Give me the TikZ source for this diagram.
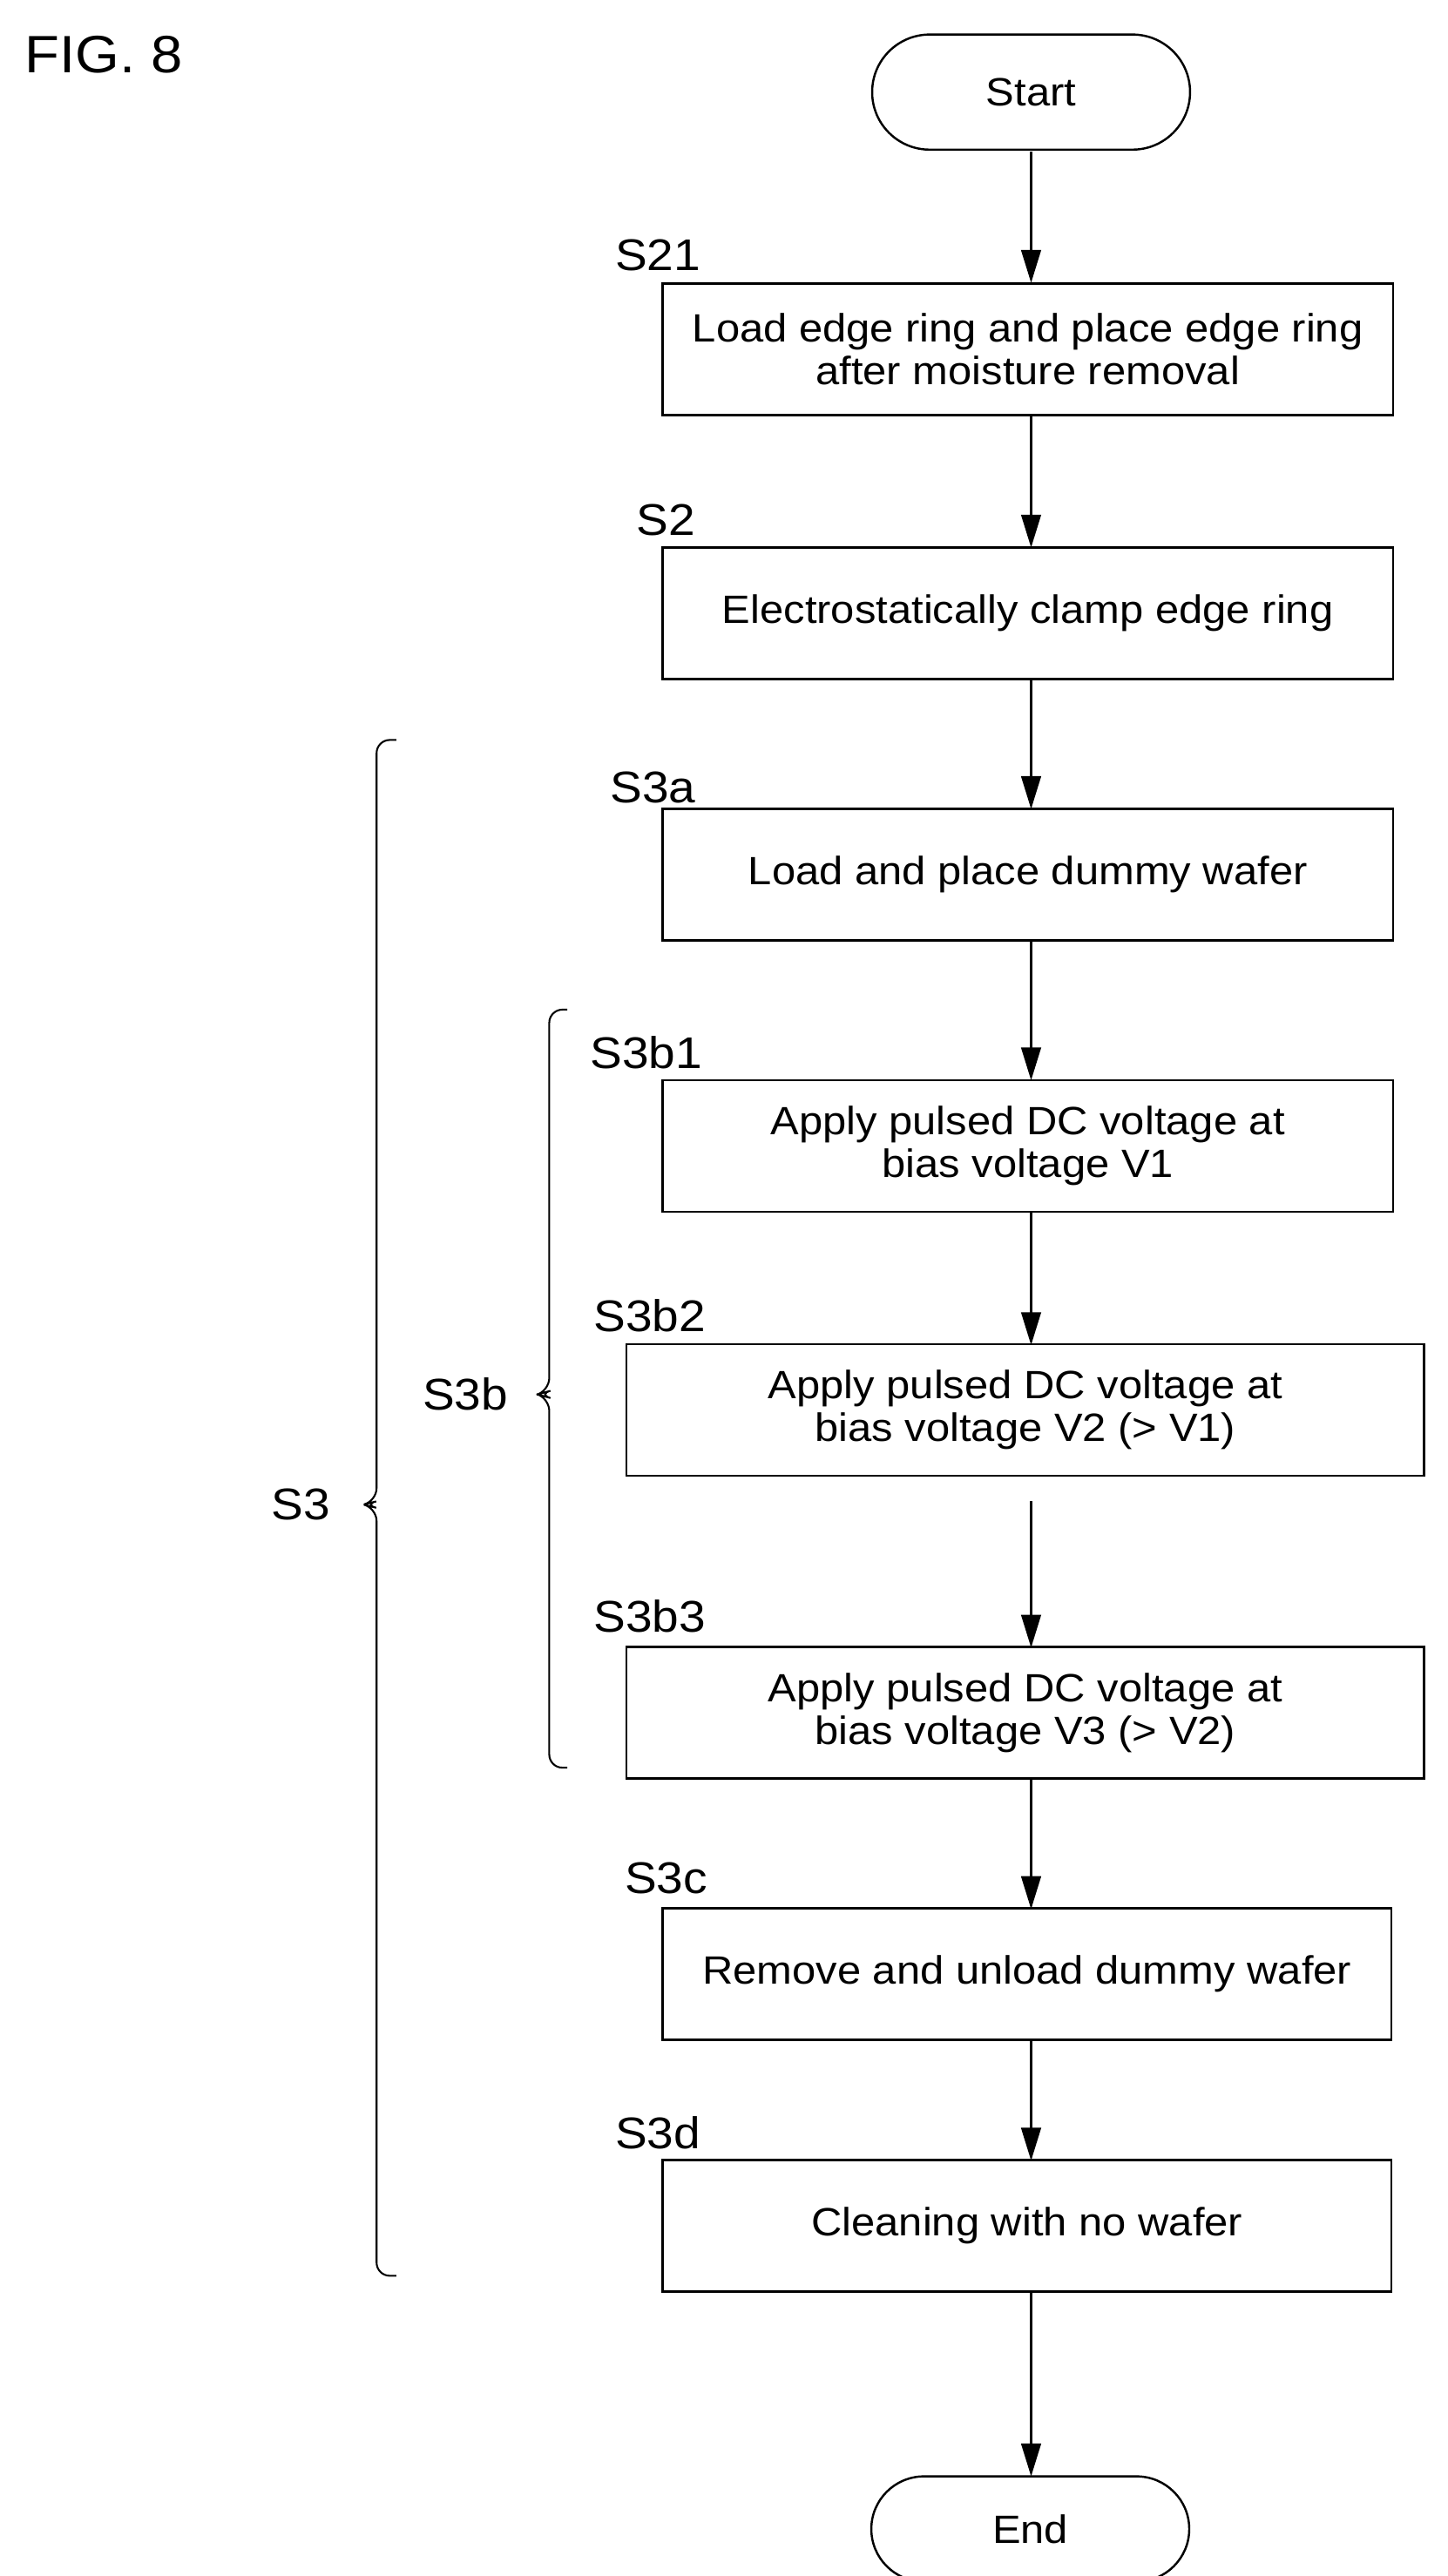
\documentclass[tikz,border=0pt]{standalone}
\usepackage{fontspec}
\setmainfont{Liberation Sans}[FakeStretch=1.08]
\usetikzlibrary{arrows.meta,shapes.misc}
\begin{document}
\begin{tikzpicture}[x=1pt,y=-1pt,
  box/.style={draw,line width=1.3pt,minimum height=80pt,align=center,font=\fontsize{24}{26}\selectfont,inner sep=0pt},
  term/.style={draw,line width=1.3pt,rounded rectangle,minimum width=200pt,minimum height=70pt,font=\fontsize{24}{26}\selectfont},
  lbl/.style={font=\fontsize{27}{30}\selectfont,anchor=center},
  arr/.style={line width=1.3pt,-{Triangle[length=20pt,width=12pt]}},
  br/.style={line width=1.1pt,rounded corners=8pt}]
\useasboundingbox (0,0) rectangle (880,1566.6);
\node[font=\fontsize{32}{36}\selectfont] (fig) at (63,33) {FIG. 8};
\node[term] (start) at (627,56) {Start};
\node[box,minimum width=444pt] (s21) at (625,212.5) {Load edge ring and place edge ring\\after moisture removal};
\node[box,minimum width=444pt] (s2) at (625,373) {Electrostatically clamp edge ring};
\node[box,minimum width=444pt] (s3a) at (625,532) {Load and place dummy wafer};
\node[box,minimum width=444pt] (s3b1) at (625,697) {Apply pulsed DC voltage at\\bias voltage V1};
\node[box,minimum width=485pt] (s3b2) at (623.5,857.5) {Apply pulsed DC voltage at\\bias voltage V2 (> V1)};
\node[box,minimum width=485pt] (s3b3) at (623.5,1041.5) {Apply pulsed DC voltage at\\bias voltage V3 (> V2)};
\node[box,minimum width=443pt] (s3c) at (624.5,1200.5) {Remove and unload dummy wafer};
\node[box,minimum width=443pt] (s3d) at (624.5,1353.5) {Cleaning with no wafer};
\node[term,minimum height=64pt] (end) at (626.5,1538) {End};
\node[lbl] (l21) at (400,155) {S21};
\node[lbl] (l2) at (405,316) {S2};
\node[lbl] (l3a) at (397,479) {S3a};
\node[lbl] (l3b1) at (393,640) {S3b1};
\node[lbl] (l3b2) at (395,800) {S3b2};
\node[lbl] (l3b3) at (395,983) {S3b3};
\node[lbl] (l3c) at (405,1142) {S3c};
\node[lbl] (l3d) at (400,1297) {S3d};
\node[lbl] (l3) at (183,915) {S3};
\node[lbl] (l3b) at (283,848) {S3b};
\coordinate (gap) at (627,913);
\draw[arr] (627,92) -- (627,172);
\draw[arr] (627,253) -- (627,333);
\draw[arr] (627,413) -- (627,492);
\draw[arr] (627,572) -- (627,657);
\draw[arr] (627,737) -- (627,818);
\draw[arr] (gap) -- (627,1002);
\draw[arr] (627,1081) -- (627,1161);
\draw[arr] (627,1240) -- (627,1314);
\draw[arr] (627,1393) -- (627,1506);
\draw[br] (241,450) -- (229,450) -- (229,913) -- (221,915) -- (229,917) -- (229,1384) -- (241,1384);
\draw[br] (345,614) -- (334,614) -- (334,846) -- (327,848) -- (334,850) -- (334,1075) -- (345,1075);
\end{tikzpicture}
\end{document}
